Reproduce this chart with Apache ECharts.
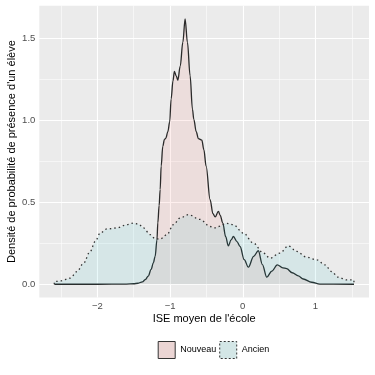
<!DOCTYPE html>
<html><head><meta charset="utf-8">
<script src="https://cdn.jsdelivr.net/npm/echarts@6/dist/echarts.min.js"></script>
<style>html,body{margin:0;padding:0;background:#fff}#c{width:375px;height:375px}</style>
</head><body><div id="c"></div>
<script>
// Density of "Nouveau" (solid)
const nouveauX = [-2.59,-2.0,-1.6,-1.5,-1.44,-1.38,-1.34,-1.30,-1.26,-1.23,-1.205,-1.18,-1.168,-1.15,-1.136,-1.122,-1.10,-1.077,-1.058,-1.03,-1.005,-0.985,-0.96,-0.94,-0.915,-0.893,-0.86,-0.824,-0.793,-0.761,-0.724,-0.692,-0.673,-0.64,-0.61,-0.563,-0.535,-0.504,-0.449,-0.41,-0.38,-0.335,-0.31,-0.275,-0.235,-0.198,-0.16,-0.129,-0.08,-0.037,0.02,0.077,0.15,0.214,0.27,0.33,0.40,0.475,0.55,0.604,0.68,0.764,0.832,0.948,1.06,1.53];
const nouveauY = [0,0,0.001,0.003,0.006,0.015,0.028,0.05,0.09,0.13,0.17,0.27,0.375,0.48,0.577,0.72,0.84,0.883,0.89,0.93,0.99,1.13,1.24,1.297,1.27,1.244,1.33,1.475,1.617,1.475,1.27,1.067,1.005,0.93,0.887,0.879,0.82,0.72,0.516,0.43,0.41,0.444,0.42,0.373,0.29,0.234,0.27,0.291,0.26,0.23,0.15,0.104,0.17,0.204,0.12,0.043,0.08,0.118,0.1,0.095,0.07,0.051,0.032,0.012,0.001,0];
// Density of "Ancien" (dotted)
const ancienX = [-2.592,-2.592,-2.51,-2.373,-2.28,-2.19,-2.098,-2.029,-1.96,-1.868,-1.731,-1.593,-1.503,-1.43,-1.365,-1.273,-1.205,-1.136,-1.044,-0.953,-0.861,-0.747,-0.587,-0.449,-0.39,-0.335,-0.22,-0.129,0.008,0.146,0.283,0.375,0.512,0.626,0.742,0.879,1.016,1.13,1.222,1.313,1.429,1.529,1.529];
const ancienY = [0,0.016,0.02,0.037,0.077,0.128,0.2,0.261,0.312,0.337,0.343,0.363,0.373,0.365,0.343,0.302,0.278,0.275,0.302,0.363,0.404,0.424,0.395,0.352,0.343,0.352,0.371,0.363,0.312,0.251,0.19,0.159,0.19,0.234,0.2,0.165,0.149,0.118,0.077,0.043,0.026,0.026,0];
const seriesNames = ['Nouveau','Ancien'];
const xTicks = [-2,-1,0,1];
const yTicks = [0,0.5,1,1.5];
const xMinor = [-2.5,-1.5,-0.5,0.5,1.5];
const yMinor = [0.25,0.75,1.25];

const font = 'Liberation Sans, Arial, Helvetica, sans-serif';
const pairs = (xs, ys) => xs.map((x,i)=>[x, ys[i]]);
const allX = nouveauX.concat(ancienX), allY = nouveauY.concat(ancienY);
const xLo = Math.min(...allX), xHi = Math.max(...allX);
const yLo = 0, yHi = Math.max(...allY);
const xPad = (xHi-xLo)*0.05, yPad = (yHi-yLo)*0.05;

const gridLines = []
  .concat(xTicks.map(v=>({xAxis:v, lineStyle:{width:1.1}})))
  .concat(xMinor.map(v=>({xAxis:v, lineStyle:{width:0.55}})))
  .concat(yTicks.map(v=>({yAxis:v, lineStyle:{width:1.1}})))
  .concat(yMinor.map(v=>({yAxis:v, lineStyle:{width:0.55}})));

const chart = echarts.init(document.getElementById('c'), null, {renderer:'canvas'});
chart.setOption({
  animation:false,
  textStyle:{fontFamily:font},
  grid:{left:39.3, right:6, top:5.7, bottom:77.5, show:true, backgroundColor:'#EBEBEB', borderWidth:0,
    containLabel:false, outerBoundsMode:'none'},
  xAxis:{type:'value', min:xLo-xPad, max:xHi+xPad,
    name:"ISE moyen de l'école", nameLocation:'middle', nameGap:16, nameMoveOverlap:false,
    nameTextStyle:{color:'#000', fontSize:11, fontFamily:font},
    axisLine:{show:false}, splitLine:{show:false},
    axisTick:{show:true, customValues:xTicks, length:3, lineStyle:{color:'#333', width:1}},
    axisLabel:{customValues:xTicks, color:'#4D4D4D', fontSize:9.5, margin:4, fontFamily:font,
      formatter:v=>(v<0?'\u2212':'')+Math.abs(v)}},
  yAxis:{type:'value', min:yLo-yPad, max:yHi+yPad,
    name:"Densité de probabilité de présence d'un élève", nameLocation:'middle', nameGap:22, nameMoveOverlap:false,
    nameTextStyle:{color:'#000', fontSize:11, fontFamily:font},
    axisLine:{show:false}, splitLine:{show:false},
    axisTick:{show:true, customValues:yTicks, length:3, lineStyle:{color:'#333', width:1}},
    axisLabel:{customValues:yTicks, color:'#4D4D4D', fontSize:9.5, margin:4, fontFamily:font,
      formatter:v=>v.toFixed(1)}},
  legend:{left:152.7, top:336, orient:'horizontal', itemWidth:17, itemHeight:17, itemGap:3, itemTextGap:3,
    textStyle:{fontSize:9, color:'#000', fontFamily:font}, selectedMode:false,
    data:[
      {name:seriesNames[0], icon:'rect', itemStyle:{color:'#EBD5D4', borderColor:'#333', borderWidth:1, borderType:'solid'}},
      {name:seriesNames[1], icon:'rect', itemStyle:{color:'#D3E6E6', borderColor:'#333', borderWidth:1, borderType:[2,2]}}
    ]},
  series:[
    {type:'line', name:'grid', data:[], z:1, silent:true,
      markLine:{z:1, silent:true, symbol:'none', label:{show:false}, animation:false,
        lineStyle:{color:'#fff', type:'solid'}, emphasis:{disabled:true}, data:gridLines}},
    {type:'line', name:seriesNames[0], data:pairs(nouveauX,nouveauY), z:3,
      smooth:0.35, smoothMonotone:'x', symbol:'none', showSymbol:false,
      itemStyle:{color:'#EBD5D4'},
      lineStyle:{color:'#2a2a2a', width:1.3},
      areaStyle:{color:'rgba(248,118,109,0.17)'}},
    {type:'line', name:seriesNames[1], data:pairs(ancienX,ancienY), z:4,
      smooth:0.35, smoothMonotone:'x', symbol:'none', showSymbol:false,
      itemStyle:{color:'#D3E6E6'},
      lineStyle:{color:'#333', width:1.3, type:[1.5,3]},
      areaStyle:{color:'rgba(0,191,196,0.12)'}}
  ]
});
</script></body></html>
